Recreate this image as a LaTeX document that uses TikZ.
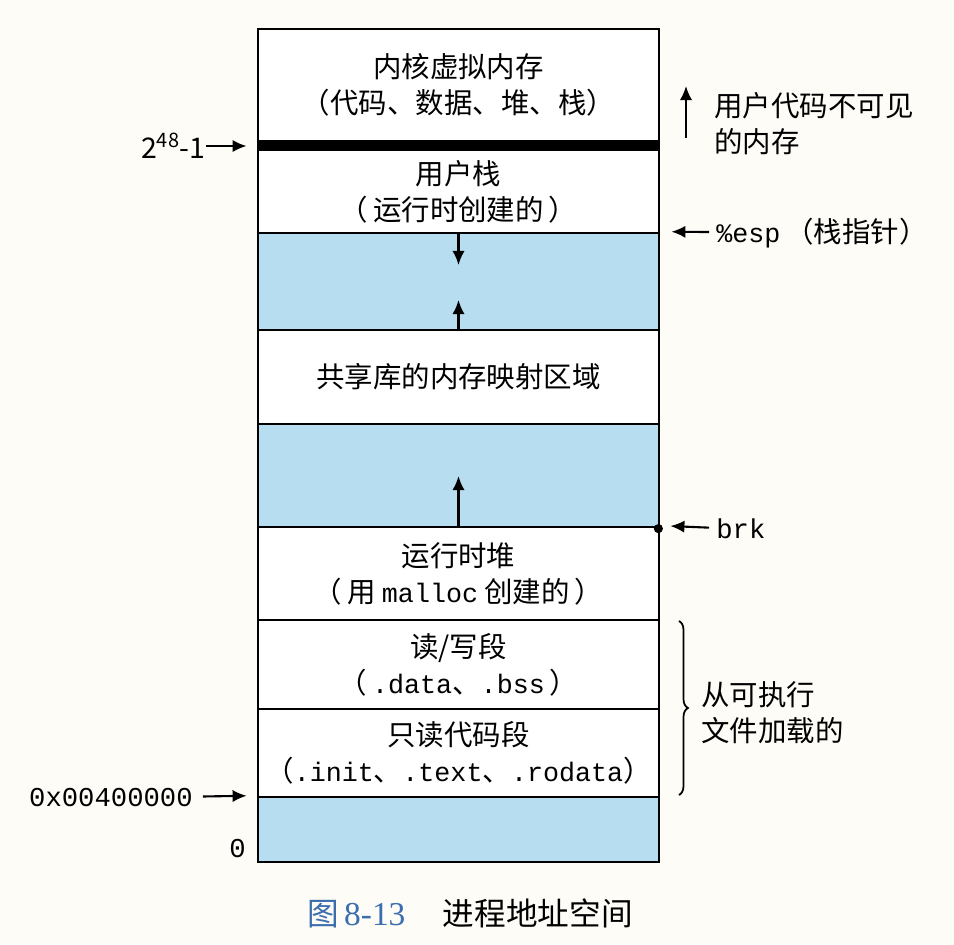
\documentclass[tikz,border=0pt]{standalone}
\usepackage{fontspec}
\setmainfont{Noto Sans CJK SC}
\setmonofont{Liberation Mono}
\newfontfamily\capnum{Liberation Serif}
\usetikzlibrary{arrows.meta,decorations.pathreplacing}
\definecolor{paper}{RGB}{253,252,246}
\definecolor{gapblue}{RGB}{182,221,240}
\definecolor{capblue}{RGB}{60,110,175}
\newcommand\code[1]{{\ttfamily\fontsize{15.2}{20.5}\selectfont #1}}
\tikzset{
  seg/.style={draw,line width=1.6pt,fill=white,minimum width=8.02cm,inner sep=0pt,align=center},
  gapseg/.style={seg,fill=gapblue},
  arr/.style={-{Latex[length=8pt,width=7pt]},line width=1.2pt},
  lbl/.style={inner sep=0pt,align=left},
}
\begin{document}
\begin{tikzpicture}[x=0.02cm,y=-0.02cm,font=\fontsize{16.2}{20.5}\selectfont]
  \fill [paper] (0,0) rectangle (954,944);
  \useasboundingbox (0,0) rectangle (954,944);

  % the address space, top to bottom
  \node [seg,minimum height=2.24cm] (kern) at (458.5,85) {内核虚拟内存\\（代码、数据、堆、栈）};
  \node [seg,fill=black,minimum height=0.18cm] (band) at (458.5,145.5) {};
  \node [seg,minimum height=1.66cm] (ustack) at (458.5,191.5) {用户栈\\（\,运行时创建的\,）};
  \node [gapseg,minimum height=1.94cm] (gapa) at (458.5,281.5) {};
  \node [seg,minimum height=1.88cm] (shlib) at (458.5,377) {共享库的内存映射区域};
  \node [gapseg,minimum height=2.06cm] (gapb) at (458.5,475.5) {};
  \node [seg,minimum height=1.86cm] (heap) at (458.5,573.5) {运行时堆\\（\,用~\code{malloc}~创建的\,）};
  \node [seg,minimum height=1.78cm] (rw) at (458.5,664.5) {读/写段\\（\,\code{.data}、\code{.bss}\,）};
  \node [seg,minimum height=1.76cm] (ro) at (458.5,753) {只读代码段\\（\code{.init}、\code{.text}、\code{.rodata}）};
  \node [gapseg,minimum height=1.30cm] (gapc) at (458.5,829.5) {};

  % growth arrows
  \coordinate (stkdn) at (458.5,265);
  \coordinate (stkup) at (458.5,300);
  \coordinate (heapup) at (458.5,476);
  \draw [arr] (gapa.north) -- (stkdn);
  \draw [arr] (gapa.south) -- (stkup);
  \draw [arr] (gapb.south) -- (heapup);

  % left side
  \node [lbl,anchor=east] (maxaddr) at (206,146) {2\textsuperscript{48}-1};
  \draw [arr,shorten >=0.2cm] (maxaddr) -- (maxaddr -| band.west);
  \node [lbl,anchor=east,font=\fontsize{15.5}{19.5}\ttfamily] (base) at (193,798) {0x00400000};
  \draw [arr,shorten >=0.2cm,shorten <=0.2cm] (base) -- (gapc.north west);
  \node [lbl,anchor=east,font=\fontsize{15.5}{19.5}\ttfamily] (zero) at (246,849) {0};

  % right side
  \coordinate (visb) at (686,138);
  \coordinate (vist) at (686,86);
  \draw [arr] (visb) -- (vist);
  \node [lbl,anchor=west] (hidden) at (714,124) {用户代码不可见\\的内存};
  \node [lbl,anchor=west] (esp) at (716,233) {\code{\%esp}\,（栈指针）};
  \draw [arr,shorten <=0.14cm,shorten >=0.22cm] (esp) -- (gapa.north east);
  \node [lbl,anchor=west,font=\fontsize{15.5}{19.5}\ttfamily] (brk) at (716,529) {brk};
  \draw [arr,shorten <=0.14cm,shorten >=0.2cm] (brk) -- (heap.north east);
  \fill (heap.north east) ++(-2,3) circle (2.6pt);

  \coordinate (bt) at (679,621);
  \coordinate (bb) at (679,795);
  \draw [line width=1pt,decorate,decoration={brace,amplitude=0.18cm}] (bt) -- (bb);
  \node [lbl,anchor=west] (loaded) at (701,713) {从可执行\\文件加载的};

  % caption
  \node [font=\fontsize{18}{21}\selectfont] (cap) at (470,913)
    {{\color{capblue}图\,{\capnum\fontsize{19}{21}\selectfont 8-13}}\hspace{0.75cm}进程地址空间};
\end{tikzpicture}
\end{document}
